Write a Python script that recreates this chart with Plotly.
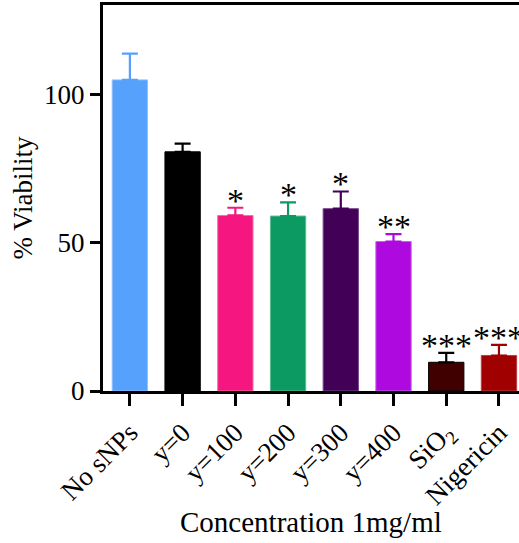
import plotly.graph_objects as go

categories = ["No sNPs", "y=0", "y=100", "y=200", "y=300", "y=400", "SiO<sub>2</sub>", "Nigericin"]
means = [105.1, 80.8, 59.3, 59.1, 61.6, 50.5, 9.7, 12.0]
errors = [8.9, 2.8, 2.6, 4.6, 5.8, 2.5, 3.2, 3.6]
colors = ["#56A1FC", "#000000", "#F5177F", "#0C9A62", "#420057", "#AE0ADF", "#410000", "#A00000"]
err_colors = ["#56A1FC", "#000000", "#F5177F", "#0C9A62", "#420057", "#AE0ADF", "#000000", "#A00000"]
outline = ["#8EC0FD", "#000000", "#F76BAA", "#5DBB94", "#7A4A8A", "#C860EA", "#000000", "#B84040"]
sig = ["", "", "*", "*", "*", "**", "***", "***"]
x_title = "Concentration 1mg/ml"
y_title = "% Viability"

FONT = "Liberation Serif, Times New Roman, serif"
x = list(range(len(categories)))

fig = go.Figure()
for i in x:
    fig.add_trace(go.Bar(
        x=[i], y=[means[i]], width=0.67,
        marker=dict(color=colors[i], line=dict(color=outline[i], width=1)),
        error_y=dict(type="data", array=[errors[i]], arrayminus=[0], symmetric=False,
                     color=err_colors[i], thickness=2.2, width=8),
        showlegend=False,
    ))

for i in x:
    if sig[i]:
        fig.add_annotation(x=i, y=means[i] + errors[i], text=sig[i], showarrow=False,
                           yanchor="bottom", yshift=-13,
                           font=dict(family=FONT, size=34, color="#000000"))

fig.add_annotation(x=0.5, y=-0.339, xref="paper", yref="paper", text=x_title,
                   showarrow=False, xanchor="center", yanchor="middle",
                   font=dict(family=FONT, size=29, color="#000000"))

fig.update_layout(
    width=519, height=543,
    margin=dict(l=103, r=0, t=5, b=152),
    plot_bgcolor="white", paper_bgcolor="white",
    bargap=0.33,
    font=dict(family=FONT, size=27, color="#000000"),
)
fig.update_xaxes(
    range=[-0.51, 7.38], tickmode="array", tickvals=x, ticktext=categories,
    tickangle=-45, ticks="outside", ticklen=12, tickwidth=2.5, tickcolor="#000000",
    showline=True, linewidth=3, linecolor="#000000", mirror=True, showgrid=False,
    zeroline=False, tickfont=dict(family=FONT, size=27),
)
fig.update_yaxes(
    range=[0, 130.4], tickvals=[0, 50, 100], ticks="outside", ticklen=10, tickwidth=2.5,
    tickcolor="#000000", showline=True, linewidth=3, linecolor="#000000",
    showgrid=False, zeroline=False, tickfont=dict(family=FONT, size=27),
    title=dict(text=y_title, font=dict(family=FONT, size=27), standoff=4),
)

fig.write_html("out.html")
